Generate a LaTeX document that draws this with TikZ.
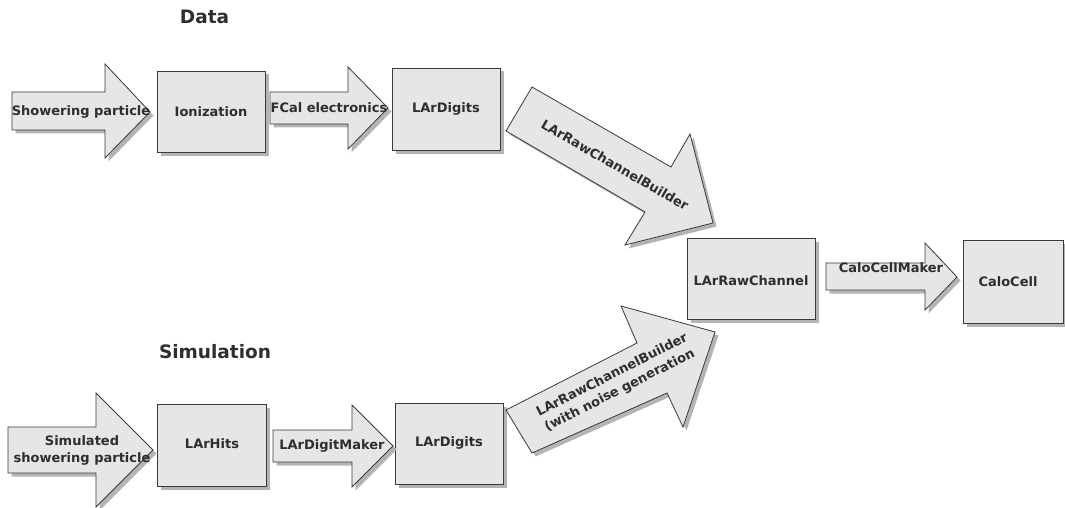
\documentclass[tikz,border=0pt]{standalone}
\usepackage{fontspec}
\setmainfont{DejaVu Sans}
\definecolor{boxfill}{HTML}{E6E6E6}
\definecolor{boxline}{HTML}{3A3A3A}
\definecolor{txt}{HTML}{2E2E2E}
\definecolor{shadowc}{HTML}{B4B4B4}
\begin{document}
\begin{tikzpicture}[x=1pt,y=-1pt,
  shd/.style={preaction={fill=shadowc, transform canvas={xshift=3.5pt,yshift=-3.5pt}}},
  solid3d/.style={shd, fill=boxfill, draw=boxline, line width=0.8pt, line join=miter},
  box/.style={solid3d, rectangle, inner sep=0pt},
  lbl/.style={text=txt, font=\fontsize{13}{17}\selectfont\bfseries, inner sep=0pt, align=center},
  title/.style={text=txt, font=\fontsize{18.5}{21}\selectfont\bfseries, inner sep=0pt}]
\useasboundingbox (0,0) rectangle (1065,508);
% titles
\node[title] (tdata) at (204.5,16.5) {Data};
\node[title] (tsim) at (215,352) {Simulation};
% boxes
\node[box, minimum width=108pt, minimum height=81pt] (ion) at (211,111.5) {};
\node[box, minimum width=108pt, minimum height=82pt] (dig1) at (446,109) {};
\node[box, minimum width=128pt, minimum height=81pt] (raw) at (751,278.5) {};
\node[box, minimum width=100pt, minimum height=83pt] (calo) at (1013,281.5) {};
\node[box, minimum width=109pt, minimum height=82pt] (hits) at (211.5,445) {};
\node[box, minimum width=108pt, minimum height=81pt] (dig2) at (449,443.5) {};
% arrows
\path[solid3d] (12,92) -- (105,92) -- (105,64) -- (150,112) -- (105,158) -- (105,130) -- (12,130) -- cycle;
\path[solid3d] (270,92) -- (348,92) -- (348,67) -- (388,108) -- (348,149) -- (348,124) -- (270,124) -- cycle;
\path[solid3d] (532,87) -- (671,167) -- (690,134) -- (713,223) -- (625,245) -- (645,212) -- (506,131) -- cycle;
\path[solid3d] (826,263) -- (925,263) -- (925,243) -- (957,277) -- (925,310) -- (925,290) -- (826,290) -- cycle;
\path[solid3d] (8,427) -- (96,427) -- (96,393) -- (153,450) -- (96,507) -- (96,473) -- (8,473) -- cycle;
\path[solid3d] (273,430) -- (352,430) -- (352,405) -- (393,446) -- (352,487) -- (352,462) -- (273,462) -- cycle;
\path[solid3d] (506,410) -- (637,343) -- (621,306) -- (715,332) -- (683,427) -- (667,393) -- (532,453) -- cycle;
% labels
\node[lbl] (l1) at (81,112) {Showering particle};
\node[lbl] (l2) at (211,112) {Ionization};
\node[lbl] (l3) at (329,108) {FCal electronics};
\node[lbl] (l4) at (446,109) {LArDigits};
\node[lbl, rotate=-30] (l5) at (615,165) {LArRawChannelBuilder};
\node[lbl] (l6) at (751,281) {LArRawChannel};
\node[lbl] (l7) at (891,268) {CaloCellMaker};
\node[lbl] (l8) at (1008,282) {CaloCell};
\node[lbl] (l9) at (82,450) {Simulated\\showering particle};
\node[lbl] (l10) at (212,444) {LArHits};
\node[lbl] (l11) at (332,446) {LArDigitMaker};
\node[lbl] (l12) at (449,443) {LArDigits};
\node[lbl, rotate=27] (l13) at (616,383) {LArRawChannelBuilder\\(with noise generation};
\end{tikzpicture}
\end{document}
